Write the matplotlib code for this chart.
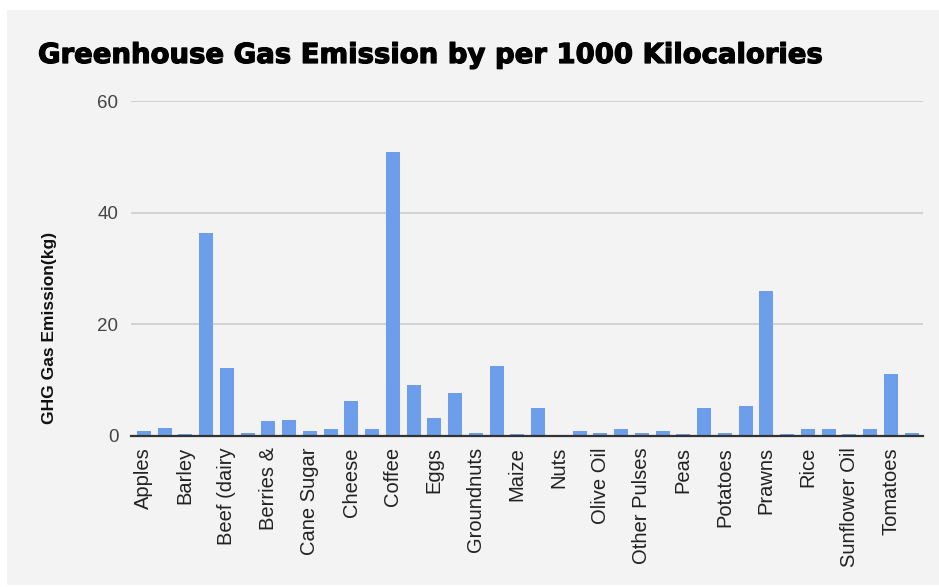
import matplotlib
matplotlib.use("Agg")
import matplotlib.pyplot as plt
from matplotlib.patches import Rectangle
import matplotlib.patheffects as pe
import numpy as np

foods = ["Apples", "Bananas", "Barley (Beer)", "Beef (beef herd)", "Beef (dairy herd)",
         "Beet Sugar", "Berries & Grapes", "Brassicas", "Cane Sugar", "Cassava",
         "Cheese", "Citrus Fruit", "Coffee", "Dark Chocolate", "Eggs",
         "Fish (farmed)", "Groundnuts", "Lamb & Mutton", "Maize (Meal)", "Milk",
         "Nuts", "Oatmeal", "Olive Oil", "Onions & Leeks", "Other Pulses",
         "Palm Oil", "Peas", "Pig Meat", "Potatoes", "Poultry Meat",
         "Prawns (farmed)", "Rapeseed Oil", "Rice", "Soybean Oil", "Sunflower Oil",
         "Tofu", "Tomatoes", "Wheat & Rye (Bread)"]
emissions = [0.9, 1.4, 0.4, 36.4, 12.2,
             0.6, 2.6, 2.9, 0.9, 1.2,
             6.2, 1.2, 50.8, 9.1, 3.2,
             7.7, 0.6, 12.5, 0.3, 5.1,
             0.05, 0.9, 0.6, 1.2, 0.6,
             0.9, 0.3, 5.1, 0.6, 5.4,
             26.0, 0.3, 1.2, 1.2, 0.3,
             1.2, 11.1, 0.6]
tick_labels = ["Apples", "Barley", "Beef (dairy", "Berries &", "Cane Sugar", "Cheese",
               "Coffee", "Eggs", "Groundnuts", "Maize", "Nuts", "Olive Oil",
               "Other Pulses", "Peas", "Potatoes", "Prawns", "Rice", "Sunflower Oil",
               "Tomatoes"]
y_ticks = [0, 20, 40, 60]

W, H = 939, 587
fig = plt.figure(figsize=(W / 100, H / 100), dpi=100)
fig.patch.set_facecolor("white")
bg = Rectangle((7 / W, 0.004), 1 - 7 / W, 1 - 10 / H - 0.004,
               transform=fig.transFigure, facecolor="#f3f3f3",
               edgecolor="none", zorder=-10)
fig.patches.append(bg)

ax = fig.add_axes([131 / W, (H - 436) / H, (923 - 131) / W, (436 - 101) / H])
ax.set_zorder(5)
ax.patch.set_visible(False)

x = np.arange(len(foods))
ax.bar(x, emissions, width=0.68, color="#6d9eeb", zorder=3)

ax.set_xlim(-0.62, len(foods) - 0.45)
ax.set_ylim(0, 60)
ax.set_yticks(y_ticks)
ax.set_yticklabels([str(v) for v in y_ticks], fontsize=13.5, color="#444444",
                   family="Liberation Sans")
ax.grid(axis="y", color="#cccccc", linewidth=1.2, zorder=1)
ax.set_axisbelow(True)
ax.tick_params(axis="y", length=0, pad=9)

ax.set_xticks(x[::2])
ax.set_xticklabels(tick_labels, rotation=90, fontsize=14.5, color="#222222",
                   family="Liberation Sans", va="top", ha="center")
ax.tick_params(axis="x", length=0, pad=8)

for s in ["top", "right", "left"]:
    ax.spines[s].set_visible(False)
ax.spines["bottom"].set_color("#333333")
ax.spines["bottom"].set_linewidth(1.6)
ax.spines["bottom"].set_zorder(4)

ax.set_ylabel("GHG Gas Emission(kg)", fontsize=12.5, fontweight="bold",
              family="Liberation Sans", color="#111111")
ax.yaxis.set_label_coords((57 - 131) / (923 - 131), (436 - 328) / (436 - 101))

fig.text(38 / W, 1 - 55 / H, "Greenhouse Gas Emission by per 1000 Kilocalories",
         fontsize=19.8, fontweight="bold", family="DejaVu Sans", color="black",
         va="center", ha="left",
         path_effects=[pe.withStroke(linewidth=0.9, foreground="black")])

fig.savefig("out.png", dpi=100, facecolor=fig.get_facecolor())
